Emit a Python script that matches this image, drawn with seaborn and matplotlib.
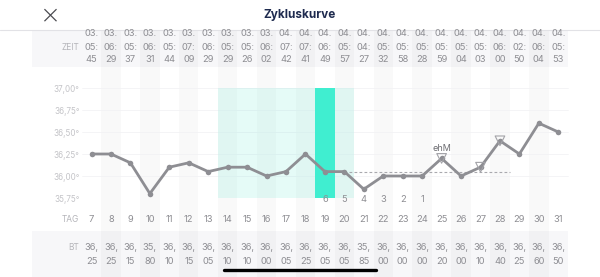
import numpy as np
import pandas as pd
import seaborn as sns
import matplotlib.pyplot as plt

# --- data
days = [7, 8, 9, 10, 11, 12, 13, 14, 15, 16, 17, 18, 19, 20, 21, 22, 23, 24, 25, 26, 27, 28, 29, 30, 31]
bt = [36.25, 36.25, 36.15, 35.80, 36.10, 36.15, 36.05, 36.10, 36.10, 36.00, 36.05, 36.25, 36.05,
      36.05, 35.85, 36.00, 36.00, 36.00, 36.20, 36.00, 36.10, 36.40, 36.25, 36.60, 36.50]
months = ['03.', '03.', '03.', '03.', '03.', '03.', '03.', '03.', '03.', '03.', '04.', '04.', '04.',
          '04.', '04.', '04.', '04.', '04.', '04.', '04.', '04.', '04.', '04.', '04.', '04.']
hours = ['05', '06', '05', '06', '05', '07', '06', '05', '05', '06', '07', '07', '06',
         '05', '04', '05', '05', '05', '05', '05', '05', '06', '02', '06', '05']
minutes = ['45', '29', '37', '31', '44', '09', '29', '29', '26', '02', '42', '41', '49',
           '57', '27', '32', '58', '28', '59', '04', '03', '00', '50', '04', '53']
fertile_days = [14, 15, 16, 17, 18, 19, 20]
peak_day = 19
count_days = [19, 20, 21, 22, 23, 24]
count_labels = ['6', '5', '4', '3', '2', '1']
cover_temp = 36.05
cover_span = (20, 28.5)
ehm_day = 25
marked_days = [25, 27, 28]
yticks = [35.75, 36.00, 36.25, 36.50, 36.75, 37.00]
ytick_labels = ['35,75°', '36,00°', '36,25°', '36,50°', '36,75°', '37,00°']

df = pd.DataFrame({'day': days, 'bt': bt})
marked = df[df['day'].isin(marked_days)]

sns.set_theme(style='white')
plt.rcParams['font.family'] = ['Inter', 'DejaVu Sans']

W, H = 600, 277
fig = plt.figure(figsize=(6, 2.77), dpi=100)

# day <-> pixel mapping
px0, step = 91.5, 19.45
xlim = (7 - px0 / step, 7 + (W - px0) / step)

TXT = '#8e8e93'
LBL = '#b4b4b9'

# background axes in pixel rows
bg = fig.add_axes([0, 0, 1, 1])
bg.set_xlim(xlim)
bg.set_ylim(H, 0)
bg.axis('off')
xa, xb = 32 / W, 568 / W
bg.axhspan(30, 67, xmin=xa, xmax=xb, color='#f7f7f9', lw=0)
bg.axhspan(231, H, xmin=xa, xmax=xb, color='#f7f7f9', lw=0)
for d in days:
    if d % 2 == 0:
        bg.axvspan(d - 0.5, d + 0.5, ymin=0, ymax=(H - 30) / H, color='black', alpha=0.022, lw=0)
bg.axhline(29.5, color='#e2e2e6', lw=0.8)

# header
bg.text(xlim[0] + 50 / step, 15, '×', family='DejaVu Sans', fontsize=18, color='#4a4a4f',
        ha='center', va='center', fontweight='light')
bg.text(np.mean(xlim), 15, 'Zykluskurve', fontsize=8.5, fontweight='bold', color='#1f2b4f',
        ha='center', va='center')

# ZEIT / TAG / BT rows
lab_x = 7 + (79 - px0) / step
bg.text(lab_x, 47, 'ZEIT', fontsize=6, color=LBL, ha='right', va='center')
bg.text(lab_x, 220, 'TAG', fontsize=6, color=LBL, ha='right', va='center')
bg.text(lab_x, 248, 'BT', fontsize=6, color=LBL, ha='right', va='center')
for d, mo, hh, mm, t in zip(days, months, hours, minutes, bt):
    kw = dict(fontsize=6.7, color=TXT, ha='center', va='center')
    bg.text(d, 33, mo, **kw)
    bg.text(d, 47, hh + ':', **kw)
    bg.text(d, 59.5, mm, **kw)
    bg.text(d, 220, str(d), **kw)
    whole, frac = f'{t:.2f}'.split('.')
    bg.text(d, 248, whole + ',', **kw)
    bg.text(d, 261, frac, **kw)

# scroll indicator
bg.plot([13.8, 21.65], [270, 270], color='black', lw=2.4, solid_capstyle='round')

# temperature chart
top, bottom = 88, 198
ax = fig.add_axes([0, (H - bottom) / H, 1, (bottom - top) / H])
ax.patch.set_alpha(0)
ax.set_xlim(xlim)
ax.set_ylim(35.75, 37.0)
for s in ['top', 'right', 'bottom']:
    ax.spines[s].set_visible(False)
ax.spines['left'].set_position(('data', 7 + (81 - px0) / step))
ax.spines['left'].set_visible(False)
ax.set_yticks(yticks)
ax.set_yticklabels(ytick_labels)
ax.tick_params(axis='y', length=0, pad=1, labelsize=5.8, labelcolor='#c4c4c8')
ax.set_xticks([])
for yv in yticks:
    ax.plot([6.5, 31.5], [yv, yv], color='#f3f3f5', lw=0.6, zorder=0)

ax.axvspan(min(fertile_days) - 0.5, max(fertile_days) + 0.5, color='#55e6cf', alpha=0.15, lw=0, zorder=1)
ax.axvspan(peak_day - 0.5, peak_day + 0.5, color='#40eed0', lw=0, zorder=1)

ax.plot(cover_span, [cover_temp, cover_temp], color='#a9a9ae', lw=0.8, ls=(0, (2.5, 2)), zorder=2)

sns.lineplot(data=df, x='day', y='bt', ax=ax, color='#8e8e93', lw=2, marker='o',
             markersize=4, markeredgewidth=0, zorder=3)
sns.scatterplot(data=marked, x='day', y='bt', ax=ax, marker='v', s=48,
                facecolor='none', edgecolor='#a3a3a8', linewidth=0.8, zorder=4)
ax.set_xlabel('')
ax.set_ylabel('')

ax.text(ehm_day, 36.315, 'ehM', fontsize=6.5, color='#6e6e73', ha='center', va='center')
for d, lab in zip(count_days, count_labels):
    ax.text(d, 35.735, lab, fontsize=6.7, color=TXT, ha='center', va='center', zorder=5)

fig.savefig('out.png', dpi=100)
